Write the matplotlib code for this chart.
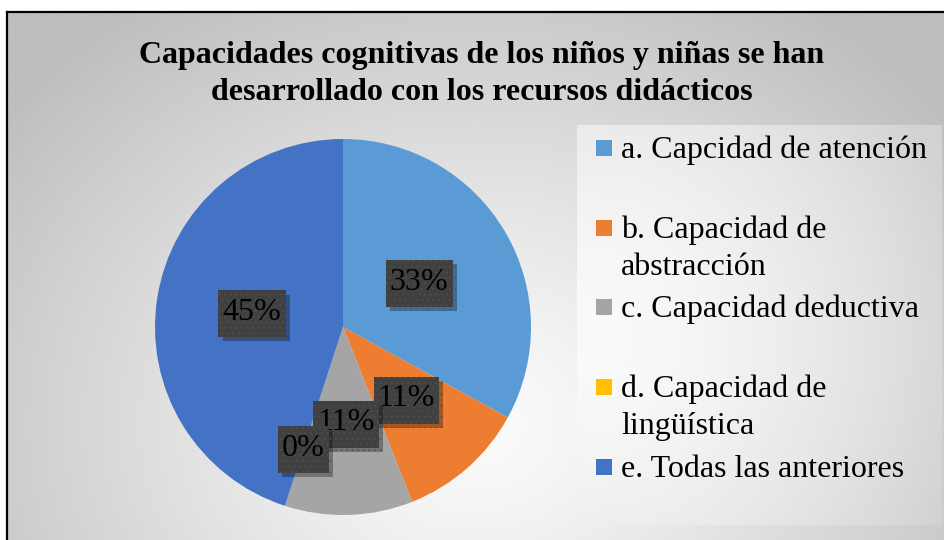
import numpy as np
import matplotlib
matplotlib.use("Agg")
import matplotlib.pyplot as plt
from matplotlib import patheffects
from matplotlib.patches import Rectangle
from matplotlib.path import Path

# ---- data ----
title_lines = ["Capacidades cognitivas de los niños y niñas se han",
               "desarrollado con los recursos didácticos"]
categories = ["a. Capcidad de atención",
              "b. Capacidad de\nabstracción",
              "c. Capacidad deductiva",
              "d. Capacidad de\nlingüística",
              "e. Todas las anteriores"]
values = [33, 11, 11, 0, 45]
colors = ["#5B9BD5", "#ED7D31", "#A5A5A5", "#FFC000", "#4472C4"]

W, H = 944, 540
DPI = 100
FONT = "Liberation Serif"
plt.rcParams["hatch.linewidth"] = 0.5

fig = plt.figure(figsize=(W / DPI, H / DPI), dpi=DPI)
fig.patch.set_facecolor("white")

# background axes in pixel coordinates
bg = fig.add_axes([0, 0, 1, 1])
bg.set_xlim(0, W)
bg.set_ylim(H, 0)
bg.axis("off")

yy, xx = np.mgrid[0:H, 0:W]
d = np.sqrt(((xx - 470) / 560.0) ** 2 + ((yy - 420) / 480.0) ** 2)
g = 252 - (252 - 195) * np.clip(d, 0, 1.2) ** 1.2
g = np.clip(g, 190, 255) / 255.0
bg.imshow(np.dstack([g, g, g]), extent=(7, W, H, 12), origin="upper", aspect="auto", zorder=0)

# legend box gradient
lx0, lx1, ly0, ly1 = 577, 942, 125, 525
ly, lx = np.mgrid[ly0:ly1, lx0:lx1]
dl = np.sqrt(((lx - 590) / 390.0) ** 2 + ((ly - 340) / 400.0) ** 2)
gl = (250 - (250 - 210) * np.clip(dl, 0, 1) ** 1.6) / 255.0
bg.imshow(np.dstack([gl, gl, gl]), extent=(lx0, lx1, ly1, ly0), origin="upper",
          aspect="auto", zorder=1)

# border
bg.plot([7, 7], [H + 5, 12], color="black", lw=1.6, zorder=3, solid_capstyle="projecting")
bg.plot([7, W + 5], [12, 12], color="black", lw=1.6, zorder=3, solid_capstyle="projecting")
bg.set_xlim(0, W)
bg.set_ylim(H, 0)

# title
for i, line in enumerate(title_lines):
    bg.text(482, 63 + i * 37, line, ha="center", va="baseline", fontsize=23,
            fontweight="bold", family=FONT, color="black", zorder=4)

# pie
ax = fig.add_axes([155 / W, 25 / H, 376 / W, 376 / H])
wedges, _ = ax.pie(values, colors=colors, startangle=90, counterclock=False,
                   radius=1.0, wedgeprops=dict(linewidth=0))
ax.set_xlim(-1, 1)
ax.set_ylim(-1, 1)
ax.set_aspect("equal")
ax.axis("off")


def label_box(x0, y0, width, height, mutation_size):
    px = 0.13 * mutation_size
    pt = 0.24 * mutation_size
    pb = 0.32 * mutation_size
    xa, xb = x0 - px, x0 + width + px
    ya, yb = y0 - pb, y0 + height + pt
    return Path([(xa, ya), (xb, ya), (xb, yb), (xa, yb), (xa, ya)],
                [Path.MOVETO, Path.LINETO, Path.LINETO, Path.LINETO, Path.CLOSEPOLY])


label_dist = [0.47, 0.51, 0.51, 0.68, 0.49]
for w, v, r in zip(wedges, values, label_dist):
    ang = np.deg2rad((w.theta1 + w.theta2) / 2.0)
    t = ax.text(r * np.cos(ang), r * np.sin(ang), f"{v}%", ha="center", va="center",
                fontsize=23, family=FONT, color="black", zorder=5,
                bbox=dict(boxstyle=label_box, fc="#404040", ec="#505050",
                          lw=0, hatch="..."))
    t.get_bbox_patch().set_path_effects([
        patheffects.SimplePatchShadow(offset=(3, -3), shadow_rgbFace="black", alpha=0.3),
        patheffects.Normal()])

# legend (manual, colors from wedges)
base = 158
step = 79.7
for i, (w, lab) in enumerate(zip(wedges, categories)):
    y = base + i * step
    bg.add_patch(Rectangle((596, y - 18), 16, 16, facecolor=w.get_facecolor(),
                           edgecolor="none", zorder=4))
    for j, line in enumerate(lab.split("\n")):
        bg.text(621, y + j * 37, line, ha="left", va="baseline", fontsize=23,
                family=FONT, color="black", zorder=4)

fig.savefig("out.png", dpi=DPI)
